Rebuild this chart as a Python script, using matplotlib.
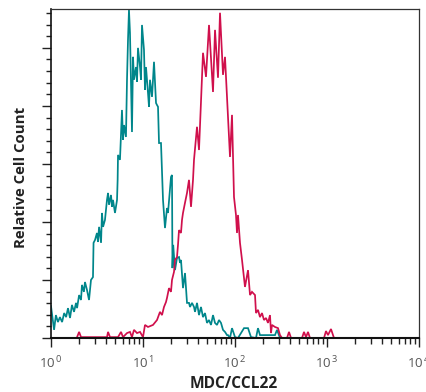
import matplotlib
matplotlib.use("Agg")
import matplotlib.pyplot as plt
from matplotlib.ticker import LogLocator, MultipleLocator, NullFormatter, FixedLocator

# ---------------------------------------------------------------
# Data (intensity, relative count)
# ---------------------------------------------------------------
teal_x = [1.00, 1.08, 1.13, 1.19, 1.25, 1.32, 1.39, 1.46, 1.53, 1.61, 1.69, 1.78,
          1.87, 1.92, 2.02, 2.12, 2.17, 2.28, 2.34, 2.46, 2.59, 2.72, 2.86, 2.90,
          3.01, 3.16, 3.24, 3.33, 3.50, 3.58, 3.68, 3.86, 4.06, 4.17, 4.27, 4.49,
          4.60, 4.72, 4.96, 5.22, 5.30, 5.35, 5.62, 5.91, 6.06, 6.22, 6.53, 6.70,
          6.87, 7.04, 7.22, 7.59, 7.79, 7.98, 8.39, 8.61, 8.82, 9.28, 9.51, 9.75,
          10.25, 10.51, 10.78, 11.33, 11.62, 11.91, 12.53, 12.84, 13.17, 13.85,
          14.20, 14.56, 14.93, 15.69, 16.50, 17.34, 18.23, 18.70, 20.15, 20.66,
          20.9, 21.3, 22.27, 23.42, 24.62, 25.25, 25.88, 27.21, 28.61, 30.08,
          31.62, 32.43, 34.09, 35.84, 36.75, 38.64, 40.62, 42.70, 44.89, 47.20,
          49.62, 52.17, 54.84, 57.67, 60.63, 63.73, 67.00, 70.44, 74.06, 77.86,
          81.85, 83.93, 88.23, 92.77, 100.0, 107.8, 125.3, 138.5, 149.2, 169.1,
          177.8, 186.9, 272.1, 286.1, 308.4]
teal_y = [11.0, 2.8, 7.9, 5.5, 7.2, 5.5, 8.6, 7.2, 10.3, 6.9, 11.4, 9.0,
          12.1, 10.3, 14.8, 13.1, 18.3, 15.9, 19.3, 16.6, 13.1, 20.0, 21.0, 32.8,
          33.8, 36.2, 33.1, 38.3, 32.8, 43.1, 38.3, 40.7, 47.6, 50.0, 45.9, 49.3,
          45.2, 47.6, 43.1, 47.6, 54.5, 63.1, 61.4, 78.6, 68.3, 73.4, 69.3, 89.0,
          102.8, 113.1, 105.2, 71.0, 96.9, 89.0, 93.4, 88.3, 100.0, 93.4, 89.0, 107.9,
          99.3, 85.5, 93.4, 84.5, 79.7, 89.0, 83.1, 89.0, 95.2, 81.0,
          80.3, 79.7, 67.2, 67.2, 47.6, 37.9, 44.8, 43.1, 55.5, 56.2,
          24.1, 32.1, 23.4, 27.6, 27.9, 25.9, 26.9, 17.2, 22.4, 12.1,
          12.1, 10.7, 12.1, 10.7, 9.0, 12.1, 7.9, 10.7, 7.2, 8.6,
          5.2, 6.2, 4.5, 7.9, 5.2, 4.5, 6.2, 5.2, 2.8, 2.1,
          1.0, 1.0, 0.0, 3.4, 0.3, 0.0, 3.4, 3.4, 0.3, 0.0,
          3.4, 1.0, 1.0, 2.8, 0.0]

red_x = [1.92, 2.02, 2.12, 4.06, 4.17, 4.38, 5.35, 5.77, 6.06, 6.70, 7.22, 7.59,
         7.98, 8.61, 9.28, 10.0, 10.51, 11.33, 12.84, 14.20, 15.30, 16.09, 16.91,
         17.78, 18.23, 19.17, 20.15, 20.66, 21.73, 22.27, 23.42, 24.01, 24.62,
         25.88, 26.54, 27.21, 28.61, 30.08, 31.62, 33.25, 34.96, 35.84, 38.64,
         40.62, 44.89, 48.40, 52.17, 57.67, 60.63, 65.34, 68.71, 74.06, 77.86,
         88.23, 92.77, 97.52, 102.5, 105.1, 107.8, 113.3, 119.2, 128.4, 138.5,
         145.6, 153.0, 165.0, 169.1, 177.8, 186.9, 196.5, 206.6, 217.3, 228.4,
         240.1, 246.2, 252.5, 272.1, 293.4, 308.4, 324.2, 367.5, 386.4, 406.2,
         534.9, 562.3, 591.2, 621.5, 653.4, 927.7, 975.2, 1025, 1105, 1191]
red_y = [0.3, 2.1, 0.3, 0.3, 2.1, 0.3, 0.3, 2.1, 0.3, 1.7, 2.1, 0.3,
         2.8, 1.7, 2.1, 0.3, 4.5, 3.8, 4.5, 6.2, 9.0, 7.9, 10.7,
         12.4, 13.8, 17.2, 15.9, 20.0, 22.8, 26.9, 27.9, 32.1, 37.2,
         36.2, 40.7, 43.1, 46.6, 50.0, 54.5, 45.2, 54.5, 61.4, 72.8,
         64.8, 98.3, 90.0, 107.9, 84.8, 106.2, 89.7, 112.1, 90.7, 96.9,
         62.4, 76.9, 48.6, 42.4, 36.2, 42.4, 32.8, 26.9, 17.6, 23.4,
         14.8, 15.9, 14.8, 8.6, 9.7, 7.2, 8.6, 6.2, 6.9, 5.2,
         7.9, 1.7, 4.5, 3.8, 3.4, 1.0, 0.0, 0.0, 2.1, 0.0,
         0.0, 2.1, 0.3, 2.1, 0.0, 0.0, 2.4, 1.0, 3.1, 0.0]

decades = [1, 10, 100, 1000, 10000]
decade_labels = [r"$10^{\,0}$", r"$10^{\,1}$", r"$10^{\,2}$", r"$10^{\,3}$", r"$10^{\,4}$"]

TEAL = "#00868b"
RED = "#d0104c"

plt.rcParams["mathtext.fontset"] = "custom"
plt.rcParams["mathtext.rm"] = "Open Sans"
plt.rcParams["mathtext.it"] = "Open Sans:italic"

# ---------------------------------------------------------------
# Plot
# ---------------------------------------------------------------
fig = plt.figure(figsize=(4.27, 3.92), dpi=100)
ax = fig.add_axes([51 / 427, 1 - 338 / 392, 368 / 427, 329 / 392])

ax.plot(teal_x, teal_y, color=TEAL, lw=1.25, solid_joinstyle="miter")
ax.plot(red_x, red_y, color=RED, lw=1.25, solid_joinstyle="miter")

ax.set_xscale("log")
ax.set_xlim(1, 10000)
ax.set_ylim(0, 113.4)

ax.xaxis.set_major_locator(FixedLocator(decades))
ax.set_xticklabels(decade_labels)
ax.xaxis.set_minor_locator(LogLocator(base=10, subs=range(2, 10)))
ax.xaxis.set_minor_formatter(NullFormatter())

ax.yaxis.set_major_locator(MultipleLocator(20))
ax.yaxis.set_minor_locator(MultipleLocator(4))
ax.set_yticklabels([])

ax.tick_params(axis="x", which="major", direction="out", length=6.8, width=1.0,
               color="#222222", labelsize=9.5, labelcolor="#555555", pad=5)
ax.tick_params(axis="x", which="minor", direction="out", length=4.3, width=1.0,
               color="#222222")
ax.tick_params(axis="y", which="major", direction="out", length=6.8, width=1.0,
               color="#222222")
ax.tick_params(axis="y", which="minor", direction="out", length=3.8, width=1.0,
               color="#222222")

for side in ["top", "right"]:
    ax.spines[side].set_linewidth(0.9)
    ax.spines[side].set_color("#333333")
ax.spines["left"].set_linewidth(1.2)
ax.spines["bottom"].set_linewidth(1.5)
ax.spines["left"].set_color("#111111")
ax.spines["bottom"].set_color("#111111")

ax.set_xlabel("MDC/CCL22", fontfamily="Open Sans", fontweight="bold",
              fontsize=11.2, color="#222222")
ax.set_ylabel("Relative Cell Count", fontfamily="Open Sans", fontweight="bold",
              fontsize=10.8, color="#222222")
ax.xaxis.set_label_coords(0.497, -0.117)
ax.yaxis.set_label_coords(-0.062, 0.488)

plt.savefig("out.png", dpi=100)
